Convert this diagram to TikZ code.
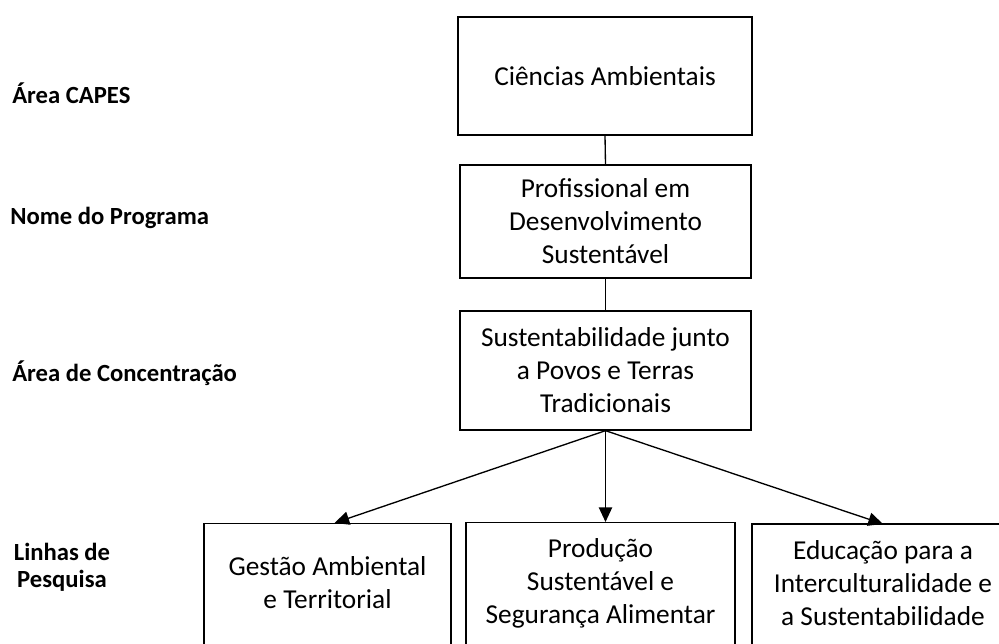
\documentclass[tikz,border=0pt]{standalone}
\usepackage{fontspec}
\setmainfont{Carlito}
\usetikzlibrary{arrows.meta,calc}

\tikzset{
  box/.style={draw, line width=1pt, inner sep=2pt, align=center,
    font=\fontsize{20.5}{24.75}\selectfont},
  boxtext/.style={align=center, font=\fontsize{20.5}{24.75}\selectfont},
  level/.style={inner sep=0pt, align=center, font=\bfseries\fontsize{18.5}{20.5}\selectfont},
  link/.style={line width=1pt},
  arrow/.style={line width=1pt, -{Triangle[length=11pt,width=10pt]}},
}

\begin{document}
\begin{tikzpicture}[x=0.75pt,y=-0.75pt]
  \useasboundingbox (0,0) rectangle (999,643);

  % Level labels
  \node[level, anchor=base west] (lcapes) at (12,103) {Área CAPES};
  \node[level, anchor=base west] (lprog) at (10,224) {Nome do Programa};
  \node[level, anchor=base west] (lconc) at (12,381) {Área de Concentração};
  \node[level] (llinhas) at (62,567) {Linhas de\\Pesquisa};

  % Hierarchy
  \node[box, minimum width=220.5pt, minimum height=88.5pt] (capes) at (605,76) {\raisebox{-3pt}{Ciências Ambientais}};
  \node[box, minimum width=218.25pt, minimum height=84.75pt] (programa) at (605.5,221.5)
    {Profissional em\\Desenvolvimento\\Sustentável};
  \node[box, minimum width=218.25pt, minimum height=89.25pt] (conc) at (605.5,370.5)
    {Sustentabilidade junto\\a Povos e Terras\\Tradicionais};

  % Research lines (cut by the page edge)
  \node[box, minimum width=185.25pt, minimum height=120pt, anchor=north] (gestao) at (327.5,523) {};
  \node[boxtext] (tgestao) at ($(gestao.north)+(0,60)$) {Gestão Ambiental\\e Territorial};
  \node[box, minimum width=201.75pt, minimum height=120pt, anchor=north] (producao) at (600.5,522) {};
  \node[boxtext] (tproducao) at ($(producao.north)+(0,61)$) {Produção\\Sustentável e\\Segurança Alimentar};
  \node[box, draw=none, minimum width=210pt, minimum height=120pt, anchor=north west] (educacao) at (752,524) {};
  \draw[link] (educacao.south west) -- (educacao.north west) -- (educacao.north east);
  \node[boxtext] (teducacao) at (883,583) {Educação para a\\Interculturalidade e\\a Sustentabilidade};

  % Connectors
  \draw[link] (capes.south) -- (programa.north);
  \draw[link] (programa.south) -- (conc.north);
  \draw[arrow] (conc.south) -- ($(gestao.north)+(7,0)$);
  \draw[arrow] (conc.south) -- (conc.south |- producao.north);
  \draw[arrow] (conc.south) -- (teducacao.north |- educacao.north);
\end{tikzpicture}
\end{document}
